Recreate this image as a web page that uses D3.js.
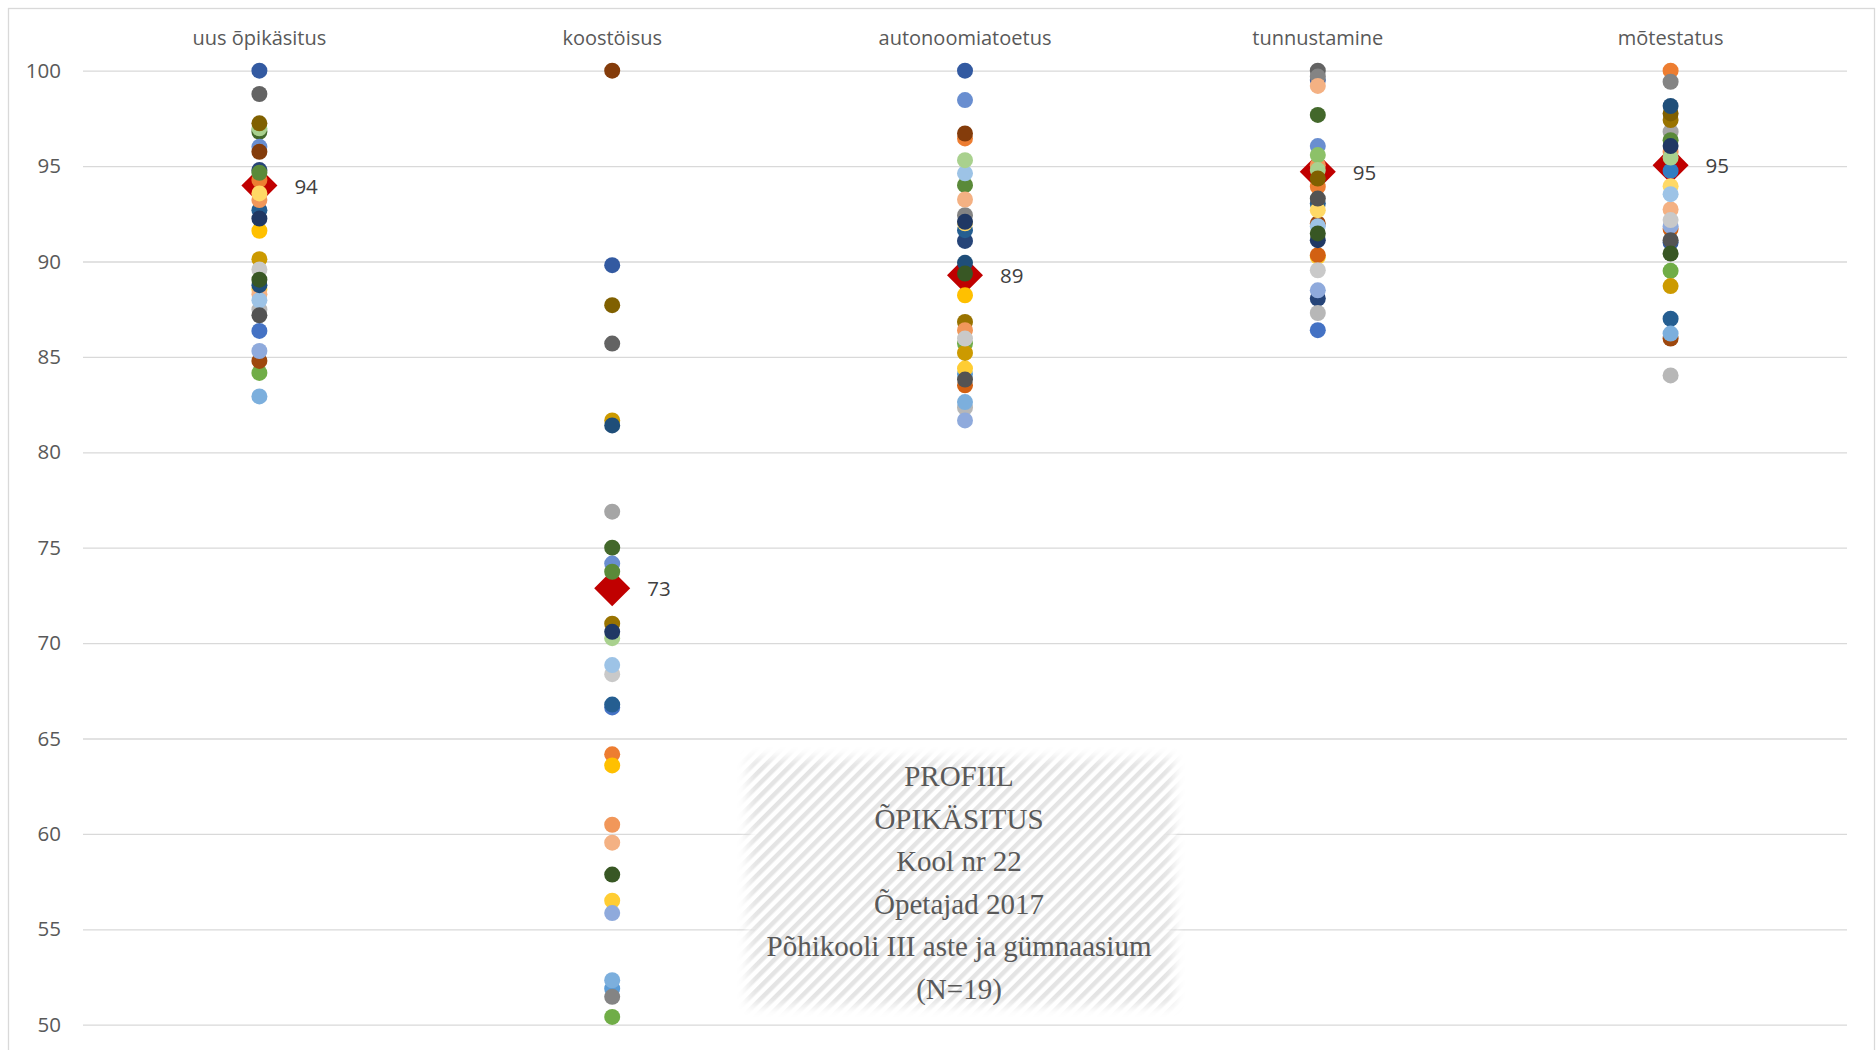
<!DOCTYPE html>
<html>
<head>
<meta charset="utf-8">
<script src="https://cdn.jsdelivr.net/npm/d3@7"></script>
<style>
  body { margin: 0; background: #fff; }
  svg { display: block; }
  text { font-family: "Open Sans", "Noto Sans", sans-serif; }
</style>
</head>
<body>
<div id="chart"></div>
<script>
// categories (top labels)
var categories = ["uus õpikäsitus", "koostöisus", "autonoomiatoetus", "tunnustamine", "mõtestatus"];
var yTicks = [50, 55, 60, 65, 70, 75, 80, 85, 90, 95, 100];

// school values per category: [series index, value]
var uusOpikasitus = [[18,100],[8,98.78],[11,96.8],[29,96.98],[33,97.24],[12,96.01],[31,95.75],[6,94.79],
  [23,94.65],[1,94.27],[27,93.57],[13,93.22],[10,92.69],[30,92.25],[3,91.61],[21,90.12],[26,89.58],
  [35,89.05],[34,88.76],[15,88.53],[25,88.29],[28,87.97],[14,87.48],[32,87.18],[0,86.36],[24,85.31],
  [7,84.79],[5,84.16],[16,82.93]];
var koostoisus = [[31,100],[18,89.81],[33,87.71],[8,85.7],[21,81.67],[34,81.41],[2,76.89],[11,75.0],
  [12,74.17],[23,73.74],[9,71.02],[30,70.59],[29,70.26],[28,68.85],[26,68.37],[10,66.78],[0,66.63],
  [1,64.17],[3,63.59],[13,60.48],[25,59.54],[35,57.87],[15,56.5],[24,55.85],[16,52.33],[4,51.89],
  [20,51.46],[5,50.41]];
var autonoomiatoetus = [[18,100],[12,98.46],[31,96.71],[1,96.45],[29,95.31],[28,94.62],[23,94.0],
  [25,93.25],[20,92.43],[27,92.0],[30,92.08],[10,91.64],[6,91.08],[34,89.93],[35,89.37],[3,88.23],
  [9,86.83],[13,86.4],[26,85.96],[5,85.7],[21,85.21],[15,84.39],[4,84.1],[32,83.81],[19,83.51],
  [16,82.63],[14,82.34],[24,81.67]];
var tunnustamine = [[8,100],[20,99.69],[18,99.51],[25,99.2],[11,97.68],[12,96.05],[17,95.58],[13,95.05],
  [29,94.79],[33,94.35],[1,93.92],[10,93.04],[32,93.3],[27,92.69],[7,91.99],[28,91.85],[35,91.47],
  [30,91.12],[19,90.33],[15,90.24],[26,89.54],[6,88.06],[24,88.49],[14,87.3],[0,86.4]];
var motestatus = [[1,100],[20,99.42],[34,98.15],[33,97.76],[9,97.41],[2,96.8],[23,96.36],[30,96.05],
  [13,95.75],[29,95.45],[22,94.75],[27,93.95],[28,93.53],[25,92.73],[26,92.17],[19,91.7],[24,91.85],
  [18,91.0],[32,91.12],[35,90.42],[5,89.51],[21,88.71],[10,87.0],[7,85.96],[16,86.22],[14,84.03]];
var schoolValues = [uusOpikasitus, koostoisus, autonoomiatoetus, tunnustamine, motestatus];

// Kool nr 22 (red diamond)
var kool22 = [93.98, 72.87, 89.28, 94.70, 95.05];

var boxLines = ["PROFIIL", "ÕPIKÄSITUS", "Kool nr 22", "Õpetajad 2017",
  "Põhikooli III aste ja gümnaasium", "(N=19)"];

// Office series colour cycle
var baseColors = ["#4472C4", "#ED7D31", "#A5A5A5", "#FFC000", "#5B9BD5", "#70AD47"];
var lumSteps = [[1, 0], [0.6, 0], [0.8, 0.2], [0.8, 0], [0.6, 0.4], [0.5, 0]];
function seriesColor(i) {
  var c = d3.hsl(baseColors[i % 6]);
  var m = lumSteps[Math.floor(i / 6) % lumSteps.length];
  c.l = c.l * m[0] + m[1];
  return c.formatHex();
}

var W = 1876, H = 1050;
var margin = {top: 70.7, right: 29, bottom: 25.3, left: 83};
var width = W - margin.left - margin.right,
    height = H - margin.top - margin.bottom;

var svg = d3.select("#chart").append("svg")
    .attr("width", W)
    .attr("height", H);

var defs = svg.append("defs");
var pat = defs.append("pattern")
    .attr("id", "stripes")
    .attr("patternUnits", "userSpaceOnUse")
    .attr("width", 9).attr("height", 9)
    .attr("patternTransform", "rotate(45)");
pat.append("rect").attr("width", 9).attr("height", 9).attr("fill", "#fff");
pat.append("rect").attr("width", 4.5).attr("height", 9).attr("fill", "#e4e4e4");

defs.append("filter").attr("id", "soft")
    .attr("x", "-10%").attr("y", "-10%").attr("width", "120%").attr("height", "120%")
  .append("feGaussianBlur").attr("stdDeviation", 6);
var mask = defs.append("mask").attr("id", "boxmask");
mask.append("rect")
    .attr("x", 748).attr("y", 758).attr("width", 426).attr("height", 248)
    .attr("fill", "#fff").attr("filter", "url(#soft)");

// outer border
svg.append("rect")
    .attr("x", 8.5).attr("y", 8.5)
    .attr("width", 1866).attr("height", 1050)
    .attr("fill", "#fff")
    .attr("stroke", "#d9d9d9")
    .attr("stroke-width", 1.3);

var g = svg.append("g")
    .attr("transform", "translate(" + margin.left + "," + margin.top + ")");

var x = d3.scaleBand().domain(d3.range(categories.length)).range([0, width]);
var y = d3.scaleLinear().domain([50, 100]).range([height, 0]);

// y axis + gridlines
var yAxis = g.append("g")
    .call(d3.axisLeft(y).tickValues(yTicks).tickSize(-width).tickPadding(22));
yAxis.select(".domain").remove();
yAxis.selectAll(".tick line").attr("stroke", "#d9d9d9").attr("stroke-width", 1.3);
yAxis.selectAll(".tick text")
    .attr("fill", "#595959")
    .style("font-size", "20.5px");

// category labels on top
var xAxis = g.append("g")
    .attr("transform", "translate(0,-33)")
    .call(d3.axisTop(x).tickSize(0).tickPadding(0).tickFormat(function(i) { return categories[i]; }));
xAxis.select(".domain").remove();
xAxis.selectAll(".tick text")
    .attr("fill", "#595959")
    .attr("dy", "0.35em")
    .style("font-size", "20px");

// text box
svg.append("rect")
    .attr("x", 736).attr("y", 746).attr("width", 450).attr("height", 272)
    .attr("fill", "url(#stripes)")
    .attr("mask", "url(#boxmask)");
svg.append("g").selectAll("text")
    .data(boxLines)
  .enter().append("text")
    .attr("x", 959)
    .attr("y", function(d, i) { return 776 + i * 42.6; })
    .attr("text-anchor", "middle")
    .attr("dominant-baseline", "central")
    .attr("fill", "#595959")
    .style("font-family", "'Liberation Serif', 'DejaVu Serif', serif")
    .style("font-size", "29px")
    .text(function(d) { return d; });

var cx = function(i) { return x(i) + x.bandwidth() / 2; };

// Kool nr 22 diamonds (drawn behind the dots)
g.selectAll(".kool")
    .data(kool22)
  .enter().append("path")
    .attr("class", "kool")
    .attr("d", d3.symbol().type(d3.symbolSquare).size(650))
    .attr("transform", function(d, i) { return "translate(" + cx(i) + "," + y(d) + ") rotate(45)"; })
    .attr("fill", "#c00000");

// school dots
var dots = [];
schoolValues.forEach(function(arr, ci) {
  arr.forEach(function(p) { dots.push({cat: ci, s: p[0], v: p[1]}); });
});
dots.sort(function(a, b) { return a.s - b.s; });

g.selectAll(".dot")
    .data(dots)
  .enter().append("circle")
    .attr("class", "dot")
    .attr("cx", function(d) { return cx(d.cat); })
    .attr("cy", function(d) { return y(d.v); })
    .attr("r", 8)
    .attr("fill", function(d) { return seriesColor(d.s); });

// labels for Kool nr 22
g.selectAll(".kool-label")
    .data(kool22)
  .enter().append("text")
    .attr("class", "kool-label")
    .attr("x", function(d, i) { return cx(i) + 35; })
    .attr("y", function(d) { return y(d); })
    .attr("dominant-baseline", "central")
    .attr("fill", "#404040")
    .style("font-size", "20.5px")
    .text(function(d) { return d3.format(".0f")(d); });
</script>
</body>
</html>
